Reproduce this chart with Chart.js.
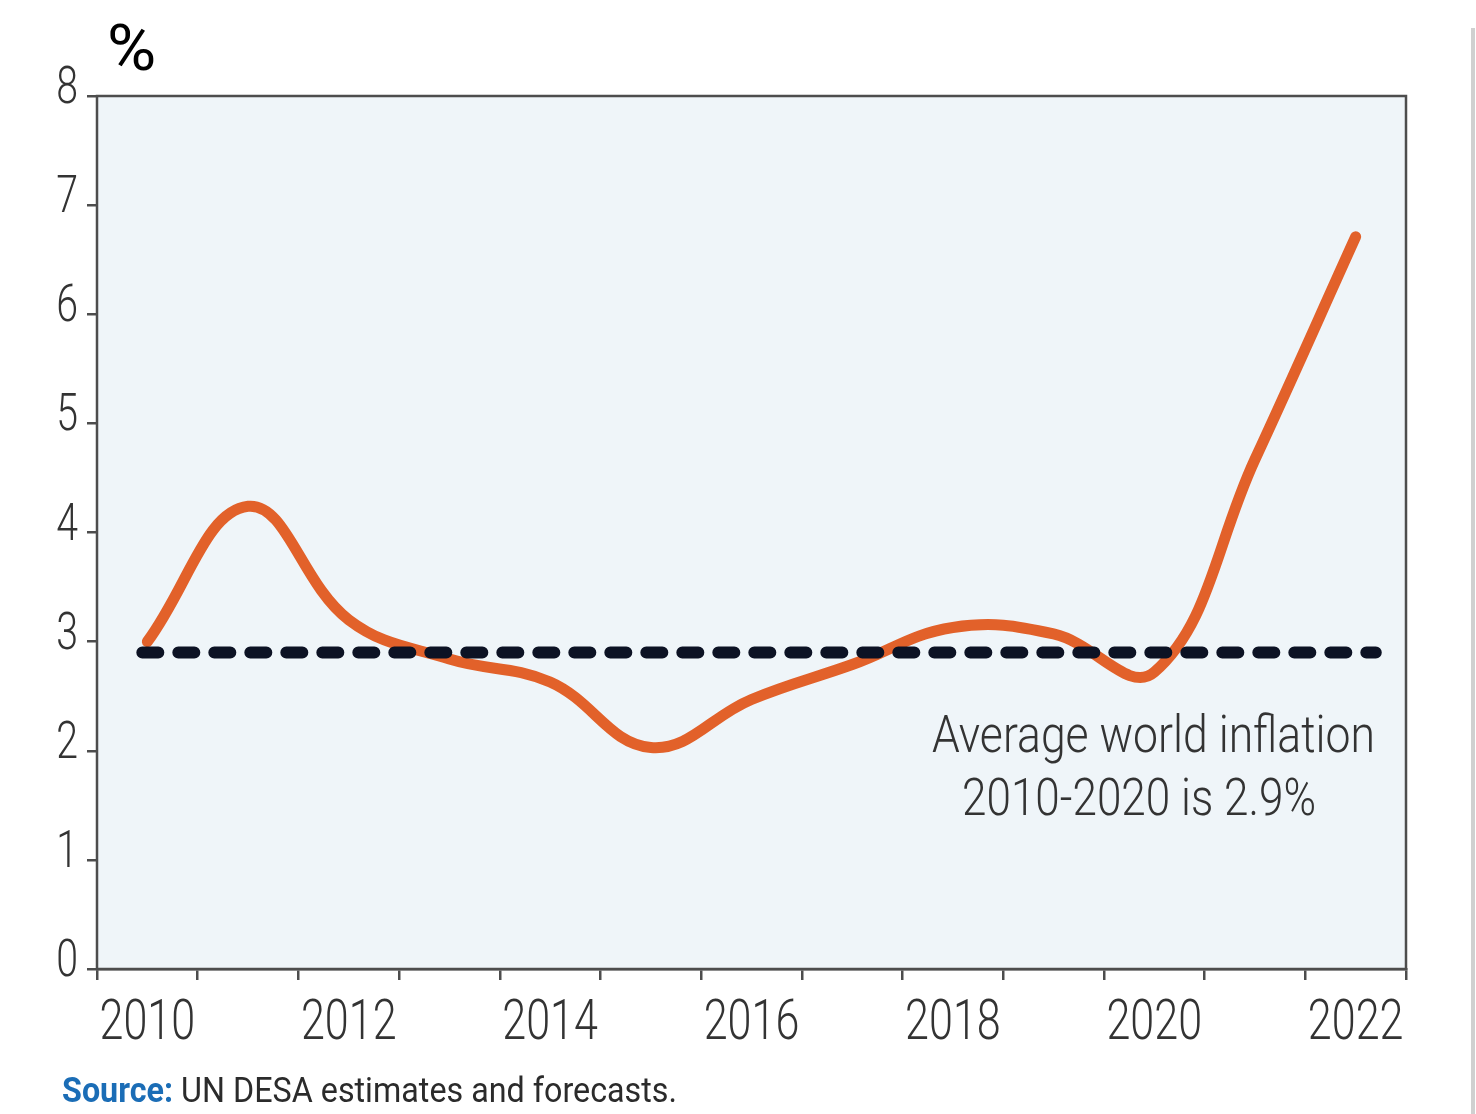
<!DOCTYPE html>
<html>
<head>
<meta charset="utf-8">
<script src="https://cdn.jsdelivr.net/npm/chart.js@4"></script>
<style>
  body { margin: 0; background: #fff; }
  #wrap { position: relative; width: 1476px; height: 1114px; overflow: hidden; }
  canvas { position: absolute; left: 0; top: 0; }
  .edge { position: absolute; left: 1471px; top: 28px; width: 4px; height: 1100px; background: #d0d0d0; }
</style>
</head>
<body>
<div id="wrap">
  <canvas id="c" width="1476" height="1114"></canvas>
  <div class="edge"></div>
</div>
<script>
// world inflation, per cent
const years = ['2010', '2011', '2012', '2013', '2014', '2015', '2016', '2017', '2018', '2019', '2020', '2021', '2022'];
const inflation = [3.0, 4.24, 3.2, 2.84, 2.63, 2.03, 2.47, 2.79, 3.13, 3.07, 2.72, 4.67, 6.71];
const avgLine = [{ x: 2009.95, y: 2.9 }, { x: 2022.2, y: 2.9 }];
const yTicks = [0, 1, 2, 3, 4, 5, 6, 7, 8];
const noteLines = ['Average world inflation', '2010-2020 is 2.9%'];

const FAM = 'Roboto, "Noto Sans", sans-serif';
const SQUEEZE = 0.77;

// squeezed text (the original uses a condensed face)
function drawText(ctx, str, x, y, font, color, sx, align) {
  ctx.save();
  ctx.font = font;
  ctx.fillStyle = color;
  ctx.textBaseline = 'alphabetic';
  const w = ctx.measureText(str).width * sx;
  const left = align === 'right' ? x - w : align === 'center' ? x - w / 2 : x;
  ctx.translate(left, y);
  ctx.scale(sx, 1);
  ctx.textAlign = 'left';
  ctx.fillText(str, 0, 0);
  ctx.restore();
  return w;
}
function fitScale(ctx, str, font, target) {
  ctx.save();
  ctx.font = font;
  const w = ctx.measureText(str).width;
  ctx.restore();
  return target / w;
}

const plotFrame = {
  id: 'plotFrame',
  beforeDatasetsDraw(chart) {
    const a = chart.chartArea, ctx = chart.ctx;
    ctx.save();
    ctx.fillStyle = '#eff5f9';
    ctx.fillRect(a.left, a.top, a.right - a.left, a.bottom - a.top);
    ctx.restore();
  },
  afterDraw(chart) {
    const a = chart.chartArea, ctx = chart.ctx;
    ctx.save();
    ctx.strokeStyle = '#4d4d4d';
    ctx.lineWidth = 2.5;
    ctx.strokeRect(a.left, a.top, a.right - a.left, a.bottom - a.top);
    ctx.restore();

    // tick labels at the scales' own tick positions
    const xs = chart.scales.x, ys = chart.scales.y;
    xs.ticks.forEach((t, i) => {
      if (t.label) drawText(ctx, t.label, xs.getPixelForTick(i), a.bottom + 70, '300 56px ' + FAM, '#333', SQUEEZE, 'center');
    });
    ys.ticks.forEach((t, i) => {
      drawText(ctx, String(t.value), a.left - 19, ys.getPixelForTick(i) + 7, '300 51px ' + FAM, '#333', SQUEEZE, 'right');
    });

    // unit
    drawText(ctx, '%', 107, 70, '400 64px ' + FAM, '#000', 1.05, 'left');

    // note under the average line
    const nf = '300 52px ' + FAM;
    drawText(ctx, noteLines[0], 932, 752, nf, '#333', fitScale(ctx, noteLines[0], nf, 443), 'left');
    drawText(ctx, noteLines[1], 962, 815, nf, '#333', fitScale(ctx, noteLines[1], nf, 354), 'left');

    // source line
    const bf = '700 35px ' + FAM, rf = '400 35px ' + FAM;
    const s1 = 'Source:', s2 = ' UN DESA estimates and forecasts.';
    ctx.save(); ctx.font = bf; const w1 = ctx.measureText(s1).width; ctx.font = rf; const w2 = ctx.measureText(s2).width; ctx.restore();
    const ss = 615 / (w1 + w2);
    const used = drawText(ctx, s1, 62, 1102, bf, '#1b6db6', ss, 'left');
    drawText(ctx, s2, 62 + used, 1102, rf, '#2b2b2b', ss, 'left');
  }
};

new Chart(document.getElementById('c'), {
  type: 'line',
  data: {
    labels: years,
    datasets: [
      {
        data: inflation,
        borderColor: '#e2612a',
        borderWidth: 11,
        borderCapStyle: 'round',
        pointRadius: 0,
        tension: 0.4,
        order: 2
      },
      {
        data: avgLine,
        xAxisID: 'x2',
        borderColor: '#0c1224',
        borderWidth: 12,
        borderDash: [16, 20],
        borderCapStyle: 'round',
        pointRadius: 0,
        order: 1
      }
    ]
  },
  options: {
    responsive: false,
    devicePixelRatio: 1,
    animation: false,
    layout: { padding: { top: 96, right: 70, left: 0, bottom: 0 } },
    plugins: { legend: { display: false }, tooltip: { enabled: false } },
    scales: {
      x: {
        offset: true,
        grid: { offset: true, drawOnChartArea: false, tickLength: 11, tickColor: '#4d4d4d', lineWidth: 2.5 },
        border: { color: '#4d4d4d', width: 2.5 },
        ticks: {
          display: false, autoSkip: false, maxRotation: 0,
          callback: (v, i) => (i % 2 === 0 ? years[i] : '')
        },
        afterFit: (s) => { s.height = 145; }
      },
      x2: { type: 'linear', display: false, min: 2009.5, max: 2022.5 },
      y: {
        min: 0, max: 8,
        afterBuildTicks: (s) => { s.ticks = yTicks.map(v => ({ value: v })); },
        grid: { drawOnChartArea: false, tickLength: 10, tickColor: '#4d4d4d', lineWidth: 2.5 },
        border: { color: '#4d4d4d', width: 2.5 },
        ticks: { display: false },
        afterFit: (s) => { s.width = 97; }
      }
    }
  },
  plugins: [plotFrame]
});
</script>
</body>
</html>
